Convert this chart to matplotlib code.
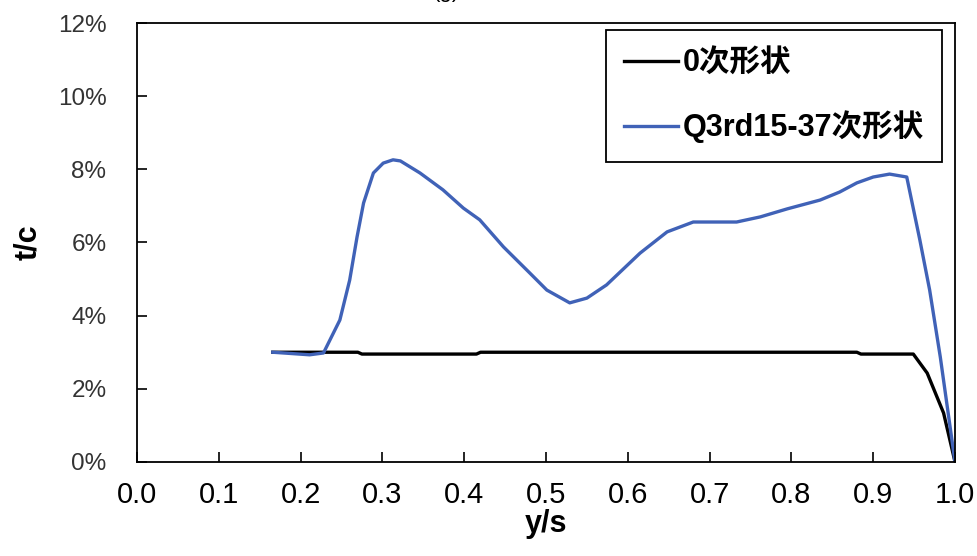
import matplotlib
matplotlib.use("Agg")
import matplotlib.pyplot as plt
from matplotlib.ticker import FuncFormatter, MultipleLocator

plt.rcParams['font.family'] = ['Liberation Sans', 'Noto Sans CJK SC', 'DejaVu Sans']

# Spanwise station y/s and thickness ratio t/c (fraction)
base_y = [0.166, 0.27, 0.275, 0.415, 0.42, 0.88, 0.885, 0.949, 0.966, 0.986, 1.0]
base_tc = [0.0300, 0.0300, 0.0295, 0.0295, 0.0300, 0.0300, 0.0295, 0.0295, 0.0243, 0.0134, 0.0]

opt_y = [0.166, 0.211, 0.228, 0.248, 0.260, 0.269, 0.277, 0.289, 0.301, 0.313, 0.322,
         0.346, 0.374, 0.399, 0.419, 0.448, 0.480, 0.501, 0.529, 0.550, 0.574, 0.615,
         0.648, 0.680, 0.733, 0.762, 0.795, 0.835, 0.859, 0.880, 0.900, 0.920, 0.941,
         0.957, 0.969, 0.982, 1.0]
opt_tc = [0.0300, 0.0293, 0.0298, 0.0388, 0.0497, 0.0615, 0.0708, 0.0790, 0.0817, 0.0826, 0.0823,
          0.0790, 0.0744, 0.0694, 0.0662, 0.0588, 0.0517, 0.0470, 0.0435, 0.0448, 0.0484, 0.0571,
          0.0629, 0.0656, 0.0656, 0.0670, 0.0692, 0.0716, 0.0738, 0.0763, 0.0779, 0.0787, 0.0779,
          0.0607, 0.0470, 0.0287, 0.0]

base_label = "0次形状"
opt_label = "Q3rd15-37次形状"

fig = plt.figure(figsize=(9.77, 5.56), dpi=100)
ax = fig.add_axes([0.1402, 0.1691, 0.8373, 0.7895])

ax.plot(base_y, base_tc, color='black', lw=2.4, label=base_label, solid_joinstyle='round')
ax.plot(opt_y, opt_tc, color='#4062B7', lw=2.4, label=opt_label, solid_joinstyle='round')

ax.set_xlim(0, 1.0)
ax.set_ylim(0, 0.12)
ax.xaxis.set_major_locator(MultipleLocator(0.1))
ax.yaxis.set_major_locator(MultipleLocator(0.02))
ax.xaxis.set_major_formatter(FuncFormatter(lambda v, p: f"{v:.1f}"))
ax.yaxis.set_major_formatter(FuncFormatter(lambda v, p: f"{v*100:.0f}%"))

ax.tick_params(axis='x', direction='in', length=7, width=1.2, pad=14, labelsize=21)
ax.tick_params(axis='y', direction='in', length=7, width=1.2, pad=22, labelsize=17.5,
               labelcolor='#333333')
for s in ax.spines.values():
    s.set_linewidth(1.3)

ax.set_xlabel("y/s", fontsize=22, fontweight='bold', labelpad=0)
ax.set_ylabel("t/c", fontsize=22, fontweight='bold', labelpad=10.5)

leg = ax.legend(loc='upper right', bbox_to_anchor=(0.984, 0.984), fancybox=False,
                edgecolor='black', framealpha=1, handlelength=1.75, handletextpad=0.15,
                labelspacing=1.05, borderpad=0.6, borderaxespad=0,
                prop={'size': 22, 'weight': 'bold'})
leg.get_frame().set_linewidth(1.3)

fig.text(0.457, 1.0 + 3 / 556, "(g)", ha='center', va='baseline', fontsize=16)

fig.savefig("out.png", dpi=100)
